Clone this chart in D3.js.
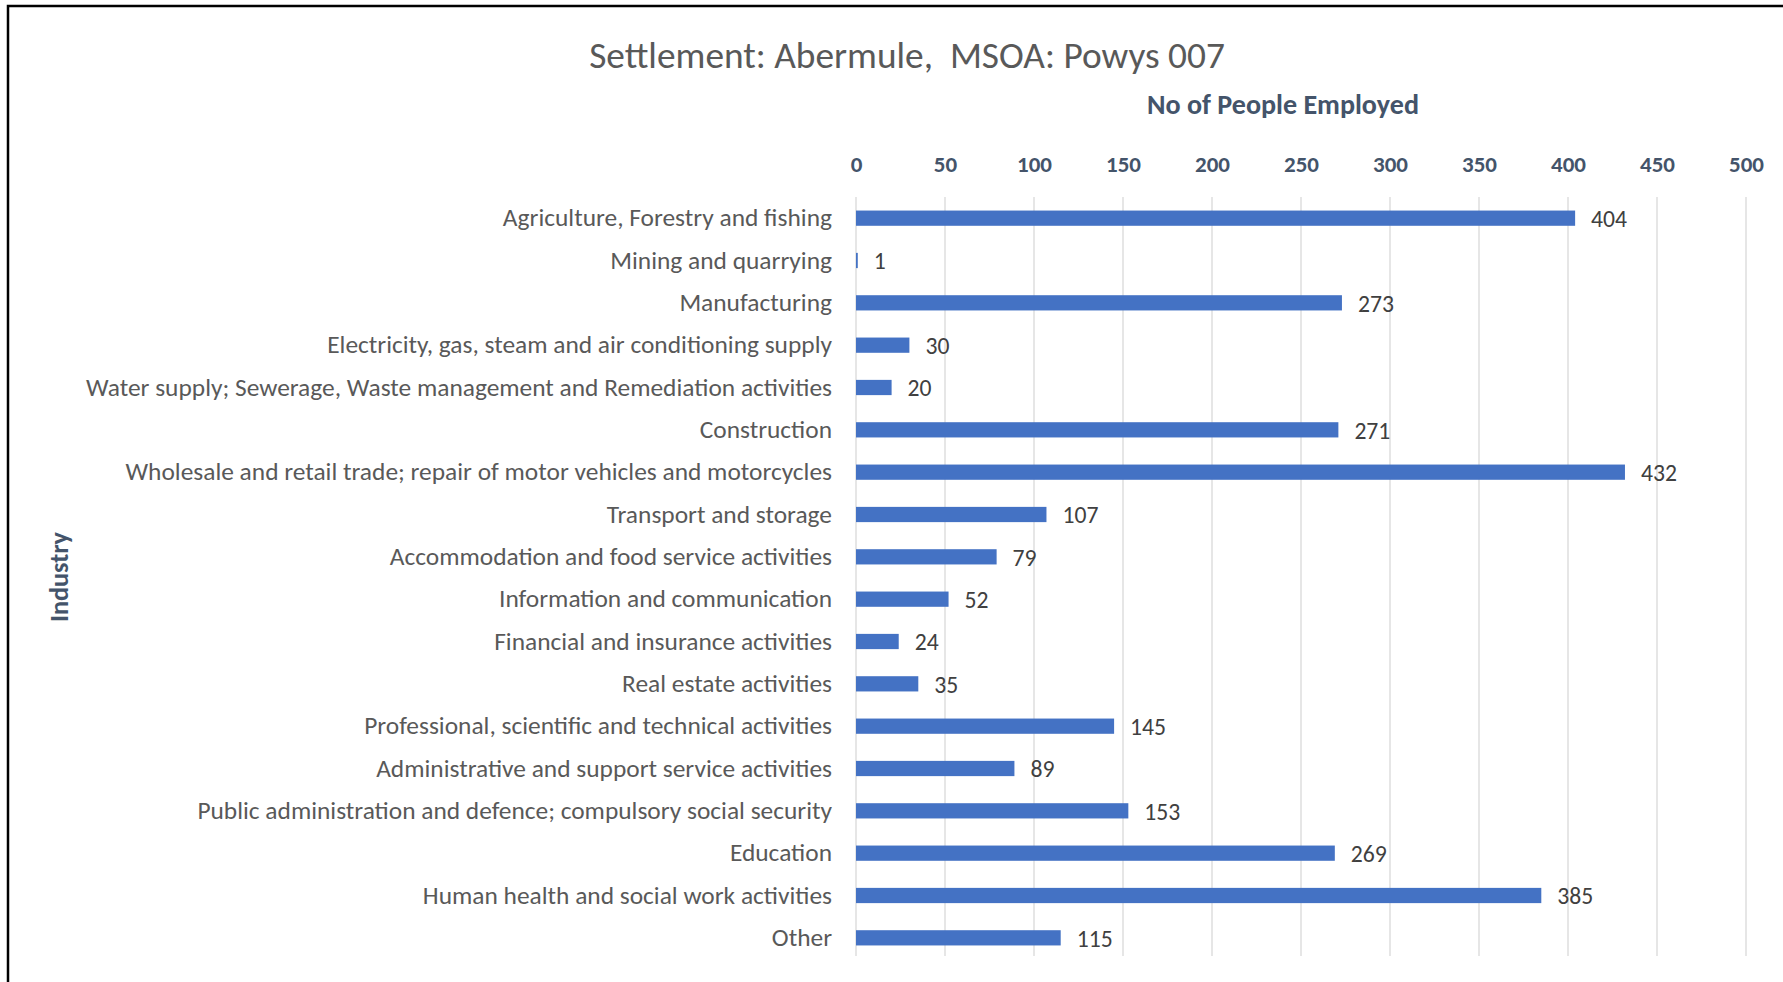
<!DOCTYPE html>
<html>
<head>
<meta charset="utf-8">
<script src="https://cdn.jsdelivr.net/npm/d3@7/dist/d3.min.js"></script>
<style>
  html, body { margin: 0; padding: 0; background: #fff; overflow: hidden; }
  svg { display: block; }
  text { font-family: Carlito, Calibri, "Open Sans", "Noto Sans", sans-serif; }
</style>
</head>
<body>
<svg id="chart" width="1783" height="982"></svg>
<script>
// Employment by industry, Abermule (MSOA Powys 007)
const industries = [
  "Agriculture, Forestry and fishing",
  "Mining and quarrying",
  "Manufacturing",
  "Electricity, gas, steam and air conditioning supply",
  "Water supply; Sewerage, Waste management and Remediation activities",
  "Construction",
  "Wholesale and retail trade; repair of motor vehicles and motorcycles",
  "Transport and storage",
  "Accommodation and food service activities",
  "Information and communication",
  "Financial and insurance activities",
  "Real estate activities",
  "Professional, scientific and technical activities",
  "Administrative and support service activities",
  "Public administration and defence; compulsory social security",
  "Education",
  "Human health and social work activities",
  "Other"
];
const employed = [404, 1, 273, 30, 20, 271, 432, 107, 79, 52, 24, 35, 145, 89, 153, 269, 385, 115];
const xTicks = [0, 50, 100, 150, 200, 250, 300, 350, 400, 450, 500];

const chartTitle = "Settlement: Abermule,  MSOA: Powys 007";
const xTitle = "No of People Employed";
const yTitle = "Industry";

const svg = d3.select("#chart");
const margin = { left: 856, right: 1746, top: 197, bottom: 959 };

const x = d3.scaleLinear().domain([0, 500]).range([margin.left, margin.right]);
const y = d3.scaleBand().domain(industries).range([margin.top, margin.bottom]).paddingInner(0.64).paddingOuter(0.32);

// size a font so a reference string spans a given width
function fitSize(str, weight, targetWidth, base) {
  const t = svg.append("text").attr("font-size", base).attr("font-weight", weight)
    .style("white-space", "pre").text(str);
  const w = t.node().getComputedTextLength();
  t.remove();
  return base * targetWidth / w;
}

const catSize = fitSize(industries[6], 400, 707, 20);
const tickSize = fitSize("500", 700, 35, 20);
const valSize = fitSize("404", 400, 36, 20);
const titleSize = fitSize(chartTitle, 300, 636, 30);
const axTitleSize = fitSize(xTitle, 700, 272, 22);
const yTitleSize = fitSize(yTitle, 700, 90, 22);

// frame
svg.append("rect")
  .attr("x", 8).attr("y", 6)
  .attr("width", 1800).attr("height", 1000)
  .attr("fill", "none").attr("stroke", "#000").attr("stroke-width", 2.5);

// vertical gridlines
svg.append("g").selectAll("line").data(xTicks).join("line")
  .attr("x1", d => x(d)).attr("x2", d => x(d))
  .attr("y1", 197).attr("y2", 956)
  .attr("stroke", "#d9d9d9").attr("stroke-width", 1.3);

// top axis tick labels
const xAxis = d3.axisTop(x).tickValues(xTicks).tickSize(0).tickPadding(0);
const gx = svg.append("g").attr("transform", "translate(0,172)").call(xAxis);
gx.select(".domain").remove();
gx.selectAll("text")
  .attr("font-family", null)
  .attr("font-size", tickSize).attr("font-weight", 700)
  .attr("fill", "#44546a").attr("dy", 0);

// category labels
const yAxis = d3.axisLeft(y).tickSize(0).tickPadding(0);
const gy = svg.append("g").attr("transform", "translate(832,0)").call(yAxis);
gy.select(".domain").remove();
gy.selectAll("text")
  .attr("font-family", null)
  .attr("font-size", catSize)
  .attr("fill", "#595959");

// bars
svg.append("g").selectAll("rect").data(industries).join("rect")
  .attr("x", x(0))
  .attr("y", d => y(d))
  .attr("width", (d, i) => x(employed[i]) - x(0))
  .attr("height", y.bandwidth())
  .attr("fill", "#4472c4");

// value labels
svg.append("g").selectAll("text").data(industries).join("text")
  .attr("x", (d, i) => x(employed[i]) + 16)
  .attr("y", d => y(d) + y.bandwidth() / 2)
  .attr("dy", "0.38em")
  .attr("font-size", valSize)
  .attr("fill", "#404040")
  .text((d, i) => employed[i]);

// titles
svg.append("text")
  .attr("x", 907).attr("y", 68)
  .attr("text-anchor", "middle")
  .style("white-space", "pre")
  .attr("font-size", titleSize).attr("font-weight", 300)
  .attr("fill", "#595959")
  .text(chartTitle);

svg.append("text")
  .attr("x", 1283).attr("y", 114)
  .attr("text-anchor", "middle")
  .attr("font-size", axTitleSize).attr("font-weight", 700)
  .attr("fill", "#44546a")
  .text(xTitle);

svg.append("text")
  .attr("transform", "translate(68,577) rotate(-90)")
  .attr("text-anchor", "middle")
  .attr("font-size", yTitleSize).attr("font-weight", 700)
  .attr("fill", "#44546a")
  .text(yTitle);
</script>
</body>
</html>
